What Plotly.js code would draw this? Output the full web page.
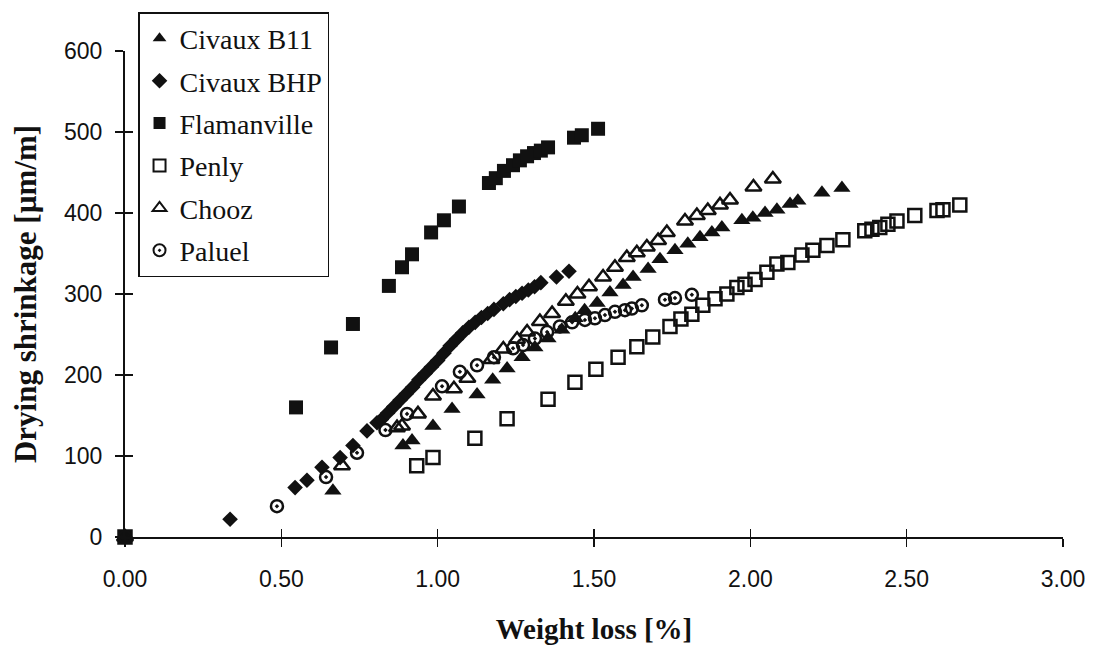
<!DOCTYPE html>
<html>
<head>
<meta charset="utf-8">
<script src="https://cdn.plot.ly/plotly-3.0.1.min.js"></script>
<style>
  html, body { margin: 0; padding: 0; background: #fff; }
  #chart { width: 1098px; height: 646px; }
</style>
</head>
<body>
<div id="chart"></div>
<script>
// Drying shrinkage versus weight loss for six concretes
const civauxB11X = [0, 0.665, 0.889, 0.918, 0.985, 1.046, 1.126, 1.176, 1.222, 1.27, 1.311, 1.353, 1.397, 1.44, 1.47, 1.51, 1.551, 1.593, 1.625, 1.673, 1.711, 1.759, 1.800, 1.839, 1.877, 1.909, 1.973, 2.008, 2.047, 2.085, 2.127, 2.152, 2.229, 2.293];
const civauxB11Y = [0, 57, 113, 119, 137, 158, 176, 194, 208, 222, 234, 245, 256, 270, 280, 289, 302, 311, 321, 331, 343, 354, 362, 370, 376, 382, 391, 394, 400, 404, 411, 415, 425, 431];

const civauxBHPX = [0, 0.336, 0.544, 0.582, 0.63, 0.688, 0.729, 0.774, 0.806, 0.82, 0.84, 0.86, 0.88, 0.90, 0.92, 0.94, 0.96, 0.98, 1.00, 1.02, 1.04, 1.06, 1.08, 1.10, 1.12, 1.14, 1.16, 1.18, 1.21, 1.23, 1.25, 1.27, 1.29, 1.31, 1.33, 1.38, 1.42];
const civauxBHPY = [0, 22, 61, 70, 86, 98, 113, 131, 141, 145, 153, 161, 169, 177, 185, 194, 202, 210, 218, 227, 236, 244, 252, 259, 265, 271, 276, 281, 288, 293, 297, 301, 305, 309, 314, 321, 328];

const flamanvilleX = [0, 0.547, 0.659, 0.729, 0.844, 0.886, 0.918, 0.979, 1.020, 1.068, 1.164, 1.186, 1.212, 1.241, 1.263, 1.286, 1.308, 1.330, 1.353, 1.436, 1.461, 1.513];
const flamanvilleY = [0, 160, 234, 263, 310, 333, 349, 376, 391, 408, 437, 443, 452, 459, 465, 470, 474, 477, 481, 493, 496, 504];

const penlyX = [0, 0.933, 0.985, 1.119, 1.222, 1.353, 1.439, 1.506, 1.577, 1.637, 1.688, 1.743, 1.778, 1.813, 1.848, 1.887, 1.925, 1.957, 1.983, 2.015, 2.053, 2.085, 2.12, 2.165, 2.20, 2.245, 2.296, 2.366, 2.389, 2.414, 2.44, 2.469, 2.526, 2.597, 2.616, 2.67];
const penlyY = [0, 88, 98, 122, 146, 170, 191, 207, 222, 235, 247, 260, 269, 275, 286, 294, 300, 308, 312, 318, 327, 337, 339, 348, 354, 360, 367, 378, 380, 382, 386, 390, 397, 403, 404, 410];

const choozX = [0, 0.694, 0.87, 0.886, 0.937, 0.985, 1.052, 1.095, 1.172, 1.21, 1.254, 1.286, 1.327, 1.366, 1.41, 1.447, 1.484, 1.529, 1.567, 1.605, 1.637, 1.669, 1.705, 1.733, 1.791, 1.829, 1.864, 1.903, 1.935, 2.010, 2.072];
const choozY = [0, 88, 135, 137, 152, 174, 183, 196, 219, 232, 244, 253, 266, 276, 291, 300, 309, 321, 333, 345, 351, 358, 366, 376, 390, 397, 403, 410, 416, 432, 442];

const paluelX = [0, 0.486, 0.643, 0.742, 0.833, 0.902, 1.014, 1.071, 1.126, 1.18, 1.241, 1.273, 1.311, 1.35, 1.391, 1.43, 1.471, 1.503, 1.535, 1.567, 1.599, 1.621, 1.653, 1.727, 1.759, 1.813];
const paluelY = [0, 38, 74, 104, 132, 152, 186, 204, 212, 222, 233, 237, 245, 253, 260, 265, 268, 270, 274, 278, 280, 282, 286, 293, 295, 299];

const xTickVals = [0, 0.5, 1, 1.5, 2, 2.5, 3];
const xTickText = ['0.00', '0.50', '1.00', '1.50', '2.00', '2.50', '3.00'];
const yTickVals = [0, 100, 200, 300, 400, 500, 600];

const ink = '#111111';

function series(name, xs, ys, symbol, size, group) {
  const open = symbol.indexOf('open') !== -1;
  return {
    type: 'scatter', mode: 'markers', name: name, x: xs, y: ys,
    legendgroup: group, cliponaxis: false,
    marker: {
      symbol: symbol, size: size, color: ink,
      line: { color: ink, width: open ? 2.5 : 0 }
    }
  };
}

const traces = [
  series('Civaux B11', civauxB11X, civauxB11Y, 'triangle-up', 15, 'g1'),
  series('Civaux BHP', civauxBHPX, civauxBHPY, 'diamond', 12, 'g2'),
  series('Flamanville', flamanvilleX, flamanvilleY, 'square', 14, 'g3'),
  series('Penly', penlyX, penlyY, 'square-open', 13, 'g4'),
  series('Chooz', choozX, choozY, 'triangle-up-open', 14, 'g5'),
  series('Paluel', paluelX, paluelY, 'circle-open-dot', 12, 'g6'),
  // empty trace that brings up the second axis pair used for the inner tick halves
  { type: 'scatter', mode: 'markers', x: [], y: [], xaxis: 'x2', yaxis: 'y2', showlegend: false, hoverinfo: 'skip' }
];

const tickFont = { family: 'Liberation Sans, Arial, sans-serif', size: 23, color: ink };
const serif = 'Liberation Serif, Times New Roman, serif';

const layout = {
  width: 1098, height: 646,
  margin: { l: 125, r: 35, t: 47, b: 109, pad: 0 },
  paper_bgcolor: '#ffffff', plot_bgcolor: '#ffffff',
  showlegend: true,
  legend: {
    x: 0.0139, y: 1.08, xanchor: 'left', yanchor: 'top',
    bgcolor: '#ffffff', bordercolor: ink, borderwidth: 1.5,
    font: { family: serif, size: 28, color: ink },
    itemsizing: 'constant', tracegroupgap: 3
  },
  xaxis: {
    range: [0, 3], tickvals: xTickVals, ticktext: xTickText,
    showgrid: false, zeroline: false, showline: true, linecolor: ink, linewidth: 2,
    ticks: 'outside', ticklen: 8, tickwidth: 1.5, tickcolor: ink,
    tickfont: tickFont, ticklabelstandoff: 12,
    title: { text: 'Weight loss [%]', font: { family: serif, size: 29, color: ink, weight: 'bold' }, standoff: 28 },
    automargin: false
  },
  yaxis: {
    range: [0, 600], tickvals: yTickVals,
    showgrid: false, zeroline: false, showline: true, linecolor: ink, linewidth: 2,
    ticks: 'outside', ticklen: 8, tickwidth: 1.5, tickcolor: ink,
    tickfont: tickFont, ticklabelstandoff: 8,
    title: { text: 'Drying shrinkage [µm/m]', font: { family: serif, size: 31, color: ink, weight: 'bold' }, standoff: 18 },
    automargin: false
  },
  xaxis2: {
    overlaying: 'x', matches: 'x', anchor: 'y2', side: 'bottom',
    tickvals: xTickVals, showticklabels: false, showgrid: false, zeroline: false, showline: false,
    ticks: 'inside', ticklen: 8, tickwidth: 1.5, tickcolor: ink
  },
  yaxis2: {
    overlaying: 'y', matches: 'y', anchor: 'x2', side: 'left',
    tickvals: yTickVals, showticklabels: false, showgrid: false, zeroline: false, showline: false,
    ticks: 'inside', ticklen: 8, tickwidth: 1.5, tickcolor: ink
  }
};

Plotly.newPlot('chart', traces, layout, { staticPlot: true, displayModeBar: false });
</script>
</body>
</html>
